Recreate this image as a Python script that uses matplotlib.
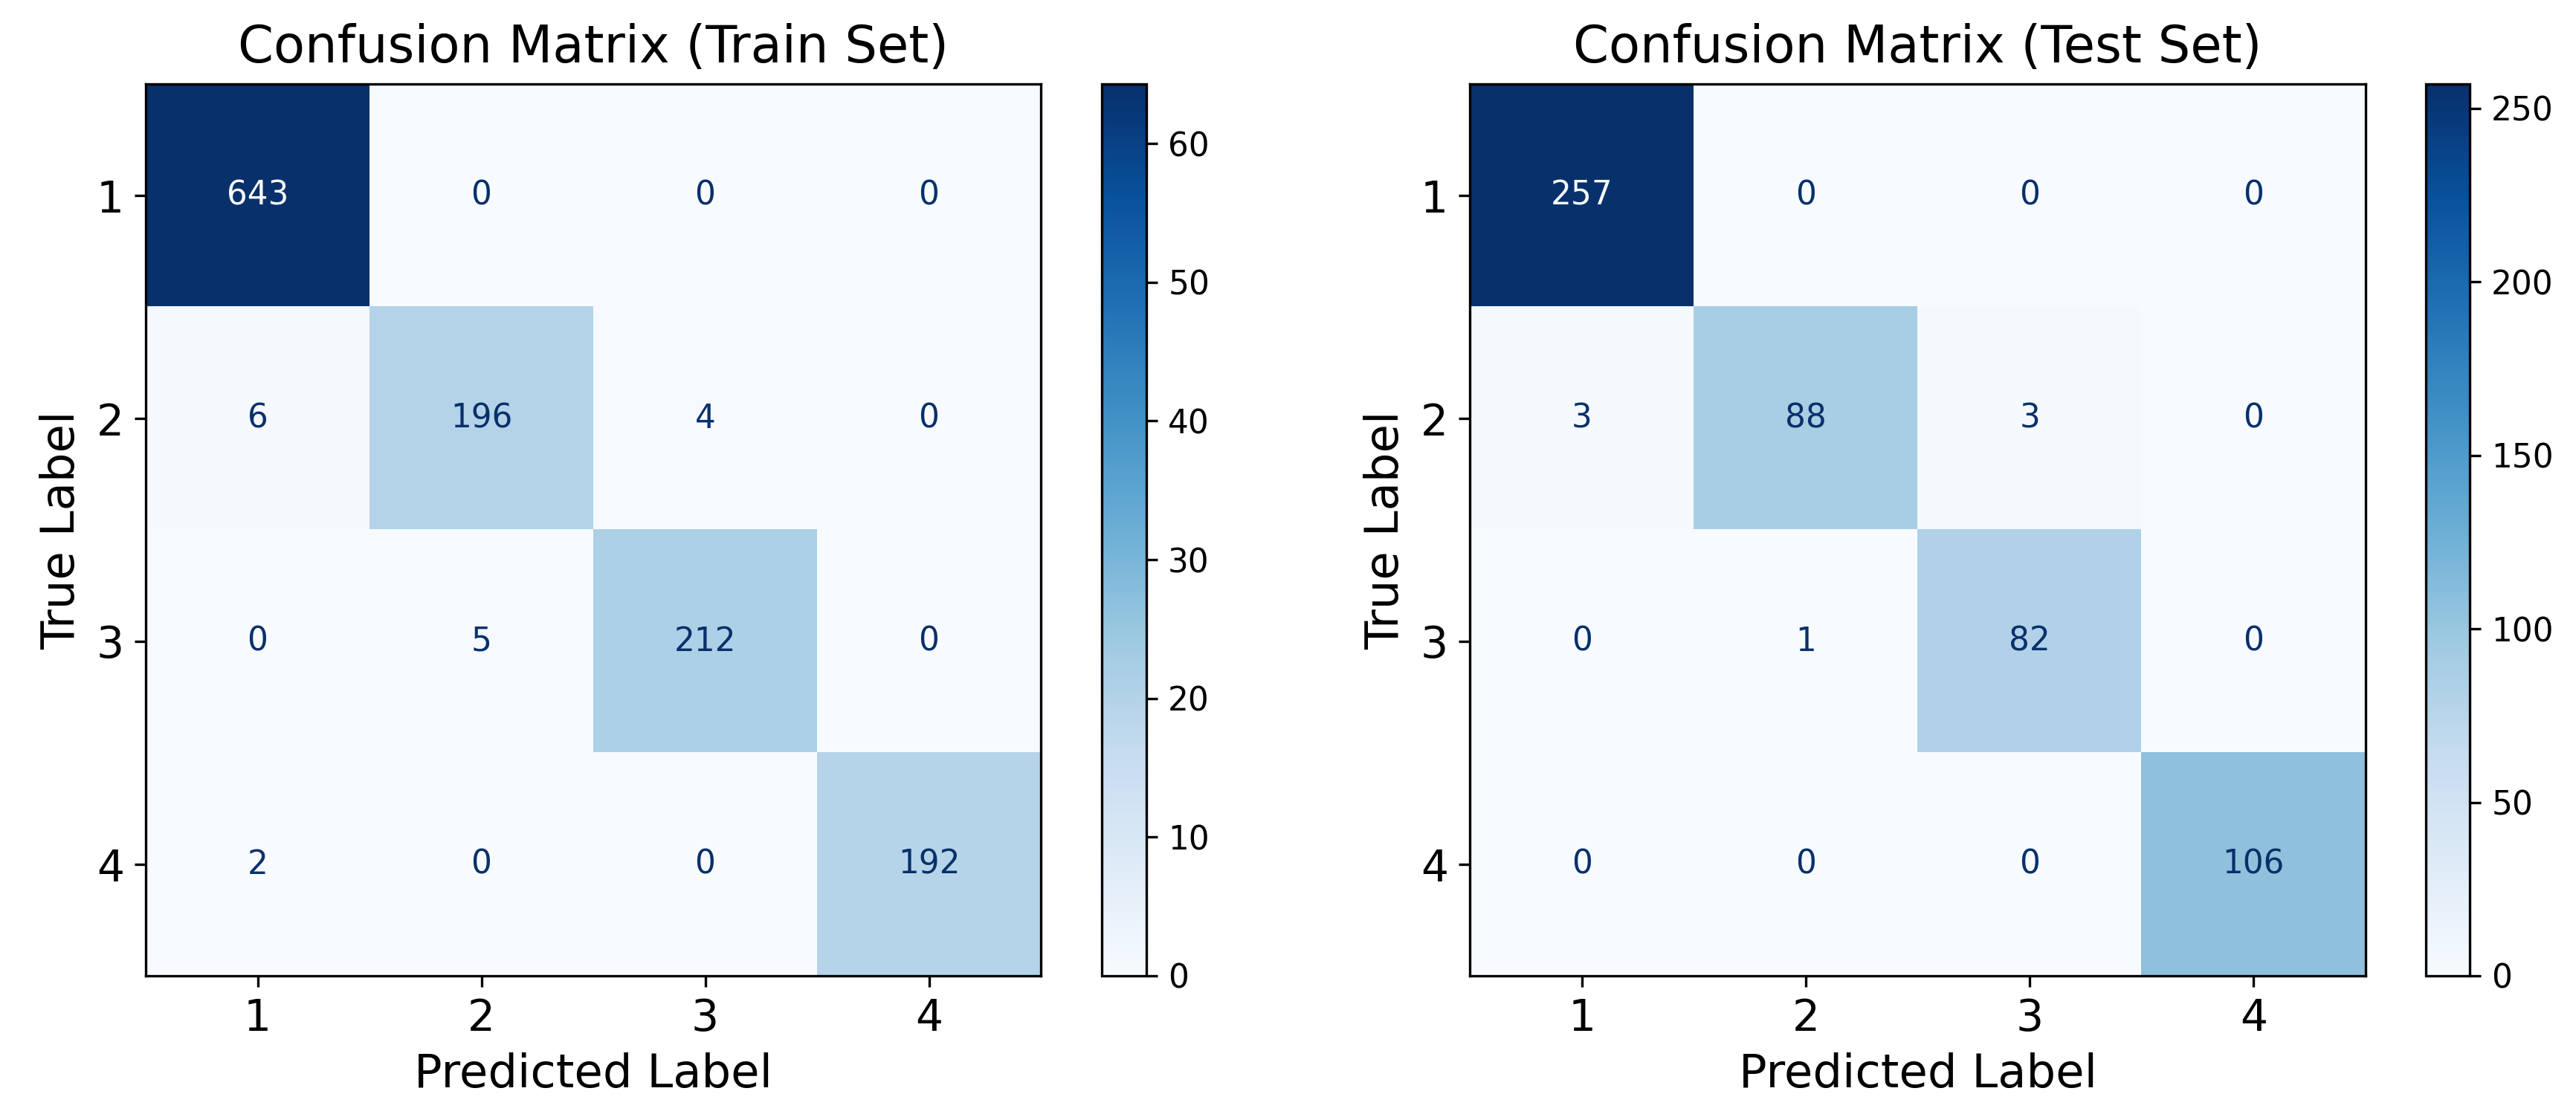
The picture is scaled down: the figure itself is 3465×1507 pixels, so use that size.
import numpy as np
import matplotlib
matplotlib.use("Agg")
import matplotlib.pyplot as plt

class_labels = ["1", "2", "3", "4"]
train_cm = [[643, 0, 0, 0],
            [6, 196, 4, 0],
            [0, 5, 212, 0],
            [2, 0, 0, 192]]
test_cm = [[257, 0, 0, 0],
           [3, 88, 3, 0],
           [0, 1, 82, 0],
           [0, 0, 0, 106]]
train_title = "Confusion Matrix (Train Set)"
test_title = "Confusion Matrix (Test Set)"
# colorbar tick labels as shown in the reference
train_cbar_ticks = [0, 100, 200, 300, 400, 500, 600]
train_cbar_labels = ["0", "10", "20", "30", "40", "50", "60"]
test_cbar_ticks = [0, 50, 100, 150, 200, 250]
test_cbar_labels = ["0", "50", "100", "150", "200", "250"]

plt.rcParams['font.family'] = ['DejaVu Sans']
W, H = 3465, 1507
dpi = 300
fig = plt.figure(figsize=(W / dpi, H / dpi), dpi=dpi)

cmap = plt.get_cmap("Blues")

def draw(ax_rect, cb_rect, cm, title, cticks, clabels):
    cm = np.array(cm)
    ax = fig.add_axes(ax_rect)
    cax = fig.add_axes(cb_rect)
    vmax = cm.max()
    im = ax.imshow(cm, cmap=cmap, vmin=0, vmax=vmax, aspect="auto",
                   interpolation="nearest")
    thresh = vmax / 2.0
    for i in range(cm.shape[0]):
        for j in range(cm.shape[1]):
            color = cmap(0.0) if cm[i, j] > thresh else cmap(1.0)
            ax.text(j, i, str(cm[i, j]), ha="center", va="center",
                    color=color, fontsize=10.5)
    n = len(class_labels)
    ax.set_xticks(range(n))
    ax.set_yticks(range(n))
    ax.set_xticklabels(class_labels, fontsize=14)
    ax.set_yticklabels(class_labels, fontsize=14)
    ax.set_xlabel("Predicted Label", fontsize=15)
    ax.set_ylabel("True Label", fontsize=15)
    ax.set_title(title, fontsize=16.5, pad=7)
    cb = fig.colorbar(im, cax=cax)
    cb.set_ticks(cticks)
    cb.set_ticklabels(clabels)
    cb.ax.tick_params(labelsize=10.5)
    return ax

draw([196 / W, 194 / H, 1204 / W, 1200 / H],
     [1482 / W, 194 / H, 60 / W, 1200 / H],
     train_cm, train_title, train_cbar_ticks, train_cbar_labels)
draw([1977 / W, 194 / H, 1205 / W, 1200 / H],
     [3263 / W, 194 / H, 59 / W, 1200 / H],
     test_cm, test_title, test_cbar_ticks, test_cbar_labels)

fig.savefig("out.png", dpi=dpi, facecolor="white")
